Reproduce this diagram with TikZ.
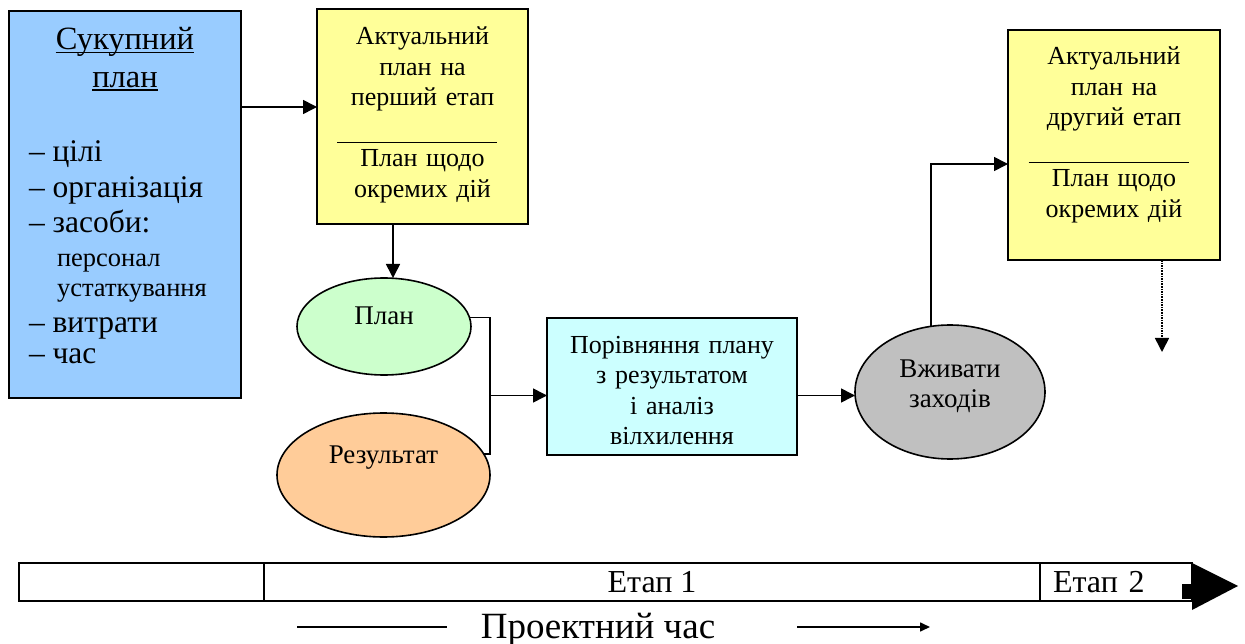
\documentclass[tikz,border=0pt]{standalone}
\usepackage{fontspec}
\setmainfont{Liberation Serif}
\usetikzlibrary{arrows.meta,shapes.geometric}

\definecolor{planblue}{HTML}{99CCFF}
\definecolor{planyellow}{HTML}{FFFF99}
\definecolor{plangreen}{HTML}{CCFFCC}
\definecolor{planpeach}{HTML}{FFCC99}
\definecolor{plancyan}{HTML}{CCFFFF}
\definecolor{plangrey}{HTML}{C0C0C0}

% font sizes used in the chart
\newcommand\hdfont{\fontsize{32.5}{38}\selectfont}
\newcommand\lsfont{\fontsize{31.5}{36}\selectfont}
\newcommand\smfont{\fontsize{26.5}{31}\selectfont}
\newcommand\bxfont{\fontsize{26}{30.5}\selectfont}
\newcommand\ovfont{\fontsize{27}{31}\selectfont}
\newcommand\brfont{\fontsize{32}{36}\selectfont}
\newcommand\tmfont{\fontsize{37}{43}\selectfont}
% separator line inside the stage boxes
\newcommand\sepline{\rule[-7pt]{160pt}{1pt}\rule{11pt}{0pt}}

\begin{document}
\begin{tikzpicture}[x=1pt,y=-1pt,
  box/.style={draw, line width=2pt, inner sep=0pt, outer sep=0pt, font=\bxfont, align=center, text height=18pt},
  oval/.style={ellipse, draw, line width=1.6pt, inner sep=0pt, outer sep=0pt, font=\ovfont, align=center, text height=18pt},
  txt/.style={inner sep=0pt, outer sep=0pt, anchor=base west},
  link/.style={line width=1.6pt},
  arr/.style={link, -{Triangle[length=14pt,width=14pt]}},
  cell/.style={draw, line width=1.4pt, inner sep=0pt, outer sep=0pt, minimum height=38pt, font=\brfont, text height=20pt, text depth=0pt},
]
\useasboundingbox (0,0) rectangle (1245,644);

% overall plan
\node[box, fill=planblue, minimum width=232pt, minimum height=387pt] (total) at (125,204.5) {};
\node[inner sep=0pt, anchor=base, font=\hdfont] (th1) at (125,50) {Сукупний};
\node[inner sep=0pt, anchor=base, font=\hdfont] (th2) at (125,87.5) {план};
\draw[line width=1.3pt] ([yshift=-2.5pt]th1.base west) -- ([yshift=-2.5pt]th1.base east);
\draw[line width=1.3pt] ([yshift=-2.5pt]th2.base west) -- ([yshift=-2.5pt]th2.base east);
\node[txt, font=\lsfont] (i1) at (29,162) {– цілі};
\node[txt, font=\lsfont] (i2) at (29,197.5) {– організація};
\node[txt, font=\lsfont] (i3) at (29,233) {– засоби:};
\node[txt, font=\smfont] (i4) at (57,266.5) {персонал};
\node[txt, font=\smfont] (i5) at (57,296.5) {устаткування};
\node[txt, font=\lsfont] (i6) at (29,333) {– витрати};
\node[txt, font=\lsfont] (i7) at (29,363) {– час};

% stage plans
\node[box, fill=planyellow, minimum width=211pt, minimum height=215pt, text width=205pt, text depth=161pt] (stage1) at (422.5,116.5)
  {Актуальний\\план на\\перший етап\\\sepline\\План щодо\\окремих дій};
\node[box, fill=planyellow, minimum width=212pt, minimum height=230pt, text width=205pt, text depth=178pt] (stage2) at (1114,145)
  {Актуальний\\план на\\другий етап\\\sepline\\План щодо\\окремих дій};

% control loop
\node[oval, fill=plangreen, minimum width=174pt, minimum height=97pt, text depth=21pt] (plan) at (384,326.5) {План};
\node[oval, fill=planpeach, minimum width=213pt, minimum height=124pt, text depth=42pt] (res) at (383.5,475) {Результат};
\node[box, fill=plancyan, minimum width=250pt, minimum height=137pt, text width=240pt, text depth=85pt] (cmp) at (672,386.5)
  {Порівняння плану\\з результатом\\і аналіз\\вілхилення};
\node[oval, fill=plangrey, minimum width=190pt, minimum height=134pt, text width=110pt, text depth=48pt] (act) at (950,392)
  {Вживати\\заходів};

% connectors
\coordinate (s1in) at ([yshift=9.5pt]stage1.west);
\draw[arr] (total.east |- s1in) -- (s1in);
\draw[arr] ([xshift=-29.5pt]stage1.south) -- ([xshift=-29.5pt]stage1.south |- plan.north);
\coordinate (cmpin) at ([yshift=-9pt]cmp.west);
\coordinate (join) at (490,395.5);
\draw[link] (plan.6) -| (join);
\draw[link] (res.12.5) -| (join);
\draw[arr] (join) -- (cmpin);
\draw[arr] (cmp.east |- cmpin) -- (act.west |- cmpin);
\coordinate (s2in) at ([yshift=-19pt]stage2.west);
\draw[arr] (act.106) |- (s2in);
\coordinate (s2out) at (1162,352);
\draw[link, densely dotted, -{Triangle[length=14pt,width=14pt]}] (stage2.south -| s2out) -- (s2out);

% time line
\node[cell, minimum width=245pt] (c0) at (141.5,582) {};
\node[cell, minimum width=776pt] (c1) at (652,582) {Етап 1};
\node[cell, minimum width=152pt, text width=126pt, align=left] (c2) at (1116,582) {Етап 2};
\draw[line width=2.6pt] (c0.north west) -- (c2.north east);
\draw[line width=2.6pt] (c0.south west) -- (c2.south east);
\fill ([yshift=19pt]c2.east) -- ++(46,23) -- ++(-46,24) -- cycle;
\fill ([xshift=-10pt,yshift=-2pt]c2.east) rectangle ++(10,15);

\node[inner sep=0pt, anchor=base, font=\tmfont] (time) at (598,638) {Проектний час};
\coordinate (tA) at (297,627);
\coordinate (tB) at (447,627);
\coordinate (tC) at (797,627);
\coordinate (tD) at (930,627);
\draw[link] (tA) -- (tB);
\draw[link, -{Triangle[length=10pt,width=9pt]}] (tC) -- (tD);
\end{tikzpicture}
\end{document}
